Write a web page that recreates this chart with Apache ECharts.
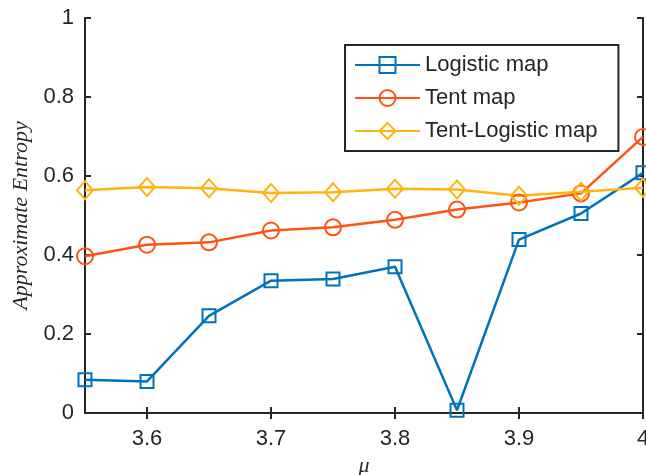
<!DOCTYPE html>
<html>
<head>
<meta charset="utf-8">
<script src="https://cdn.jsdelivr.net/npm/echarts@6/dist/echarts.min.js"></script>
<style>
  html, body { margin: 0; padding: 0; background: #fff; }
  #chart { width: 646px; height: 475px; }
</style>
</head>
<body>
<div id="chart"></div>
<script>
const mu = [3.55, 3.6, 3.65, 3.7, 3.75, 3.8, 3.85, 3.9, 3.95, 4.0]
const logisticMap = [0.084, 0.080, 0.246, 0.335, 0.339, 0.370, 0.007, 0.439, 0.505, 0.608]
const tentMap = [0.397, 0.426, 0.432, 0.462, 0.470, 0.489, 0.515, 0.533, 0.556, 0.699]
const tentLogisticMap = [0.564, 0.572, 0.569, 0.557, 0.559, 0.568, 0.566, 0.550, 0.560, 0.570]
const xTicks = [3.6, 3.7, 3.8, 3.9, 4]

const ink = '#262626'
const pairs = (ys) => mu.map((x, i) => [x, ys[i]])

function line(name, ys, color, symbol, size) {
  return {
    name, type: 'line', data: pairs(ys),
    symbol, symbolSize: size,
    lineStyle: { color, width: 2.5 },
    itemStyle: { color: 'transparent', borderColor: color, borderWidth: 2 },
    emphasis: { disabled: true }
  }
}

const tickFont = { color: ink, fontSize: 22, fontFamily: 'Liberation Sans' }
const nameFont = { color: ink, fontSize: 22, fontStyle: 'italic', fontFamily: 'Liberation Serif' }

const chart = echarts.init(document.getElementById('chart'))
chart.setOption({
  animation: false,
  grid: { left: 85, right: 3, top: 18, bottom: 62, outerBoundsMode: 'none' },
  legend: {
    orient: 'vertical', left: 345, top: 45,
    padding: [9, 21, 9, 9], itemGap: 11,
    itemWidth: 65, itemHeight: 20,
    borderColor: ink, borderWidth: 2, backgroundColor: '#fff',
    textStyle: { color: ink, fontSize: 22, fontFamily: 'Liberation Sans' },
    data: ['Logistic map', 'Tent map', 'Tent-Logistic map']
  },
  xAxis: [
    {
      type: 'value', min: 3.55, max: 4,
      name: 'μ', nameLocation: 'middle', nameGap: 40, nameTextStyle: nameFont,
      axisLine: { lineStyle: { color: ink, width: 2 } },
      axisTick: { inside: true, length: 6, customValues: xTicks, lineStyle: { color: ink, width: 2 } },
      axisLabel: { customValues: xTicks, margin: 15, ...tickFont },
      splitLine: { show: false }
    },
    {
      type: 'value', min: 3.55, max: 4, position: 'top',
      axisLine: { lineStyle: { color: ink, width: 2 } },
      axisTick: { inside: true, length: 6, customValues: xTicks, lineStyle: { color: ink, width: 2 } },
      axisLabel: { show: false },
      splitLine: { show: false }
    }
  ],
  yAxis: [
    {
      type: 'value', min: 0, max: 1, interval: 0.2,
      name: 'Approximate Entropy', nameLocation: 'middle', nameGap: 48, nameTextStyle: nameFont,
      axisLine: { show: true, lineStyle: { color: ink, width: 2 } },
      axisTick: { show: true, inside: true, length: 6, lineStyle: { color: ink, width: 2 } },
      axisLabel: { margin: 11, ...tickFont },
      splitLine: { show: false }
    },
    {
      type: 'value', min: 0, max: 1, interval: 0.2, position: 'right',
      axisLine: { show: true, lineStyle: { color: ink, width: 2 } },
      axisTick: { show: true, inside: true, length: 6, lineStyle: { color: ink, width: 2 } },
      axisLabel: { show: false },
      splitLine: { show: false }
    }
  ],
  series: [
    line('Logistic map', logisticMap, '#0072BD', 'rect', 13),
    line('Tent map', tentMap, '#FF5316', 'circle', 16),
    line('Tent-Logistic map', tentLogisticMap, '#FFB412', 'diamond', [16, 18])
  ]
})
</script>
</body>
</html>
